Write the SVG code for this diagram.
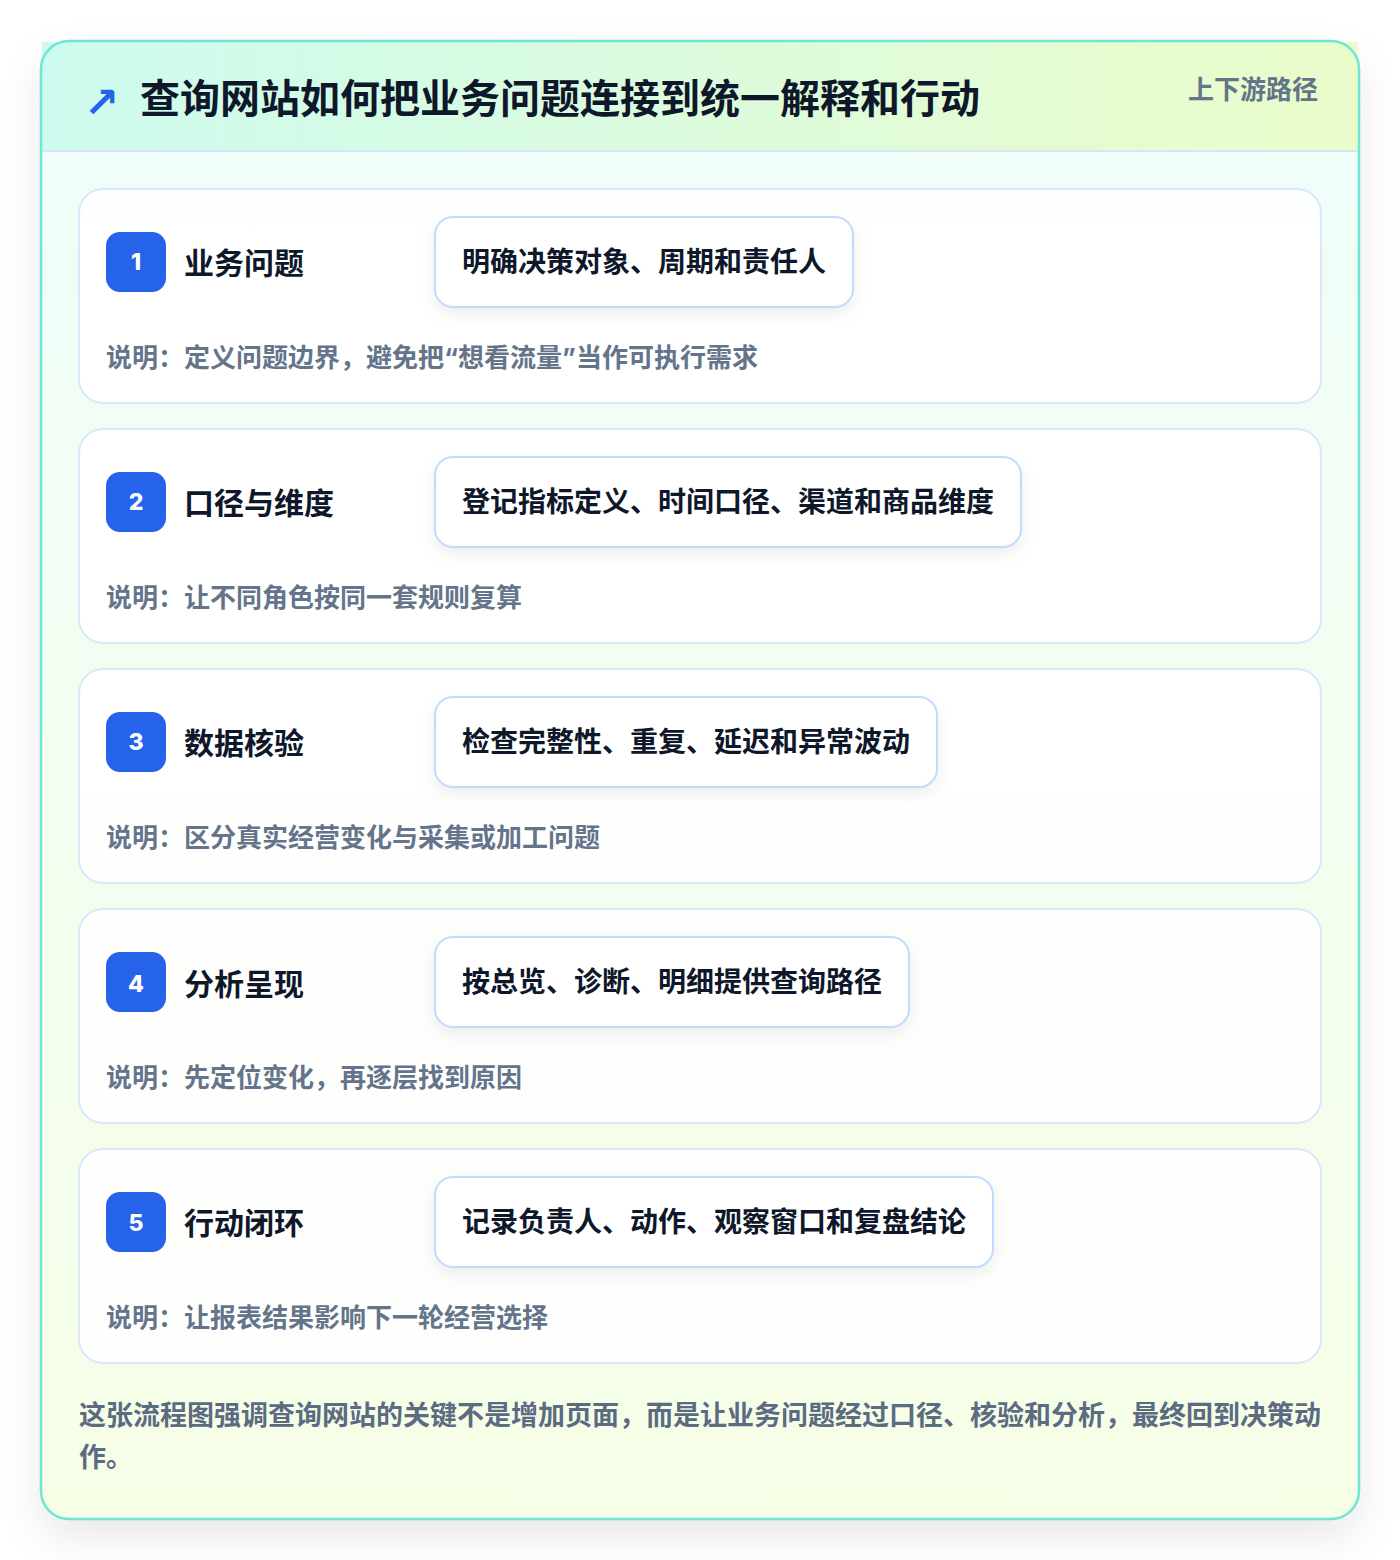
<svg xmlns="http://www.w3.org/2000/svg" width="1400" height="1560" viewBox="0 0 1400 1560">
<defs>
<linearGradient id="hdr" x1="0" y1="0" x2="1" y2="0">
<stop offset="0" stop-color="#cdfbef"/>
<stop offset="1" stop-color="#ebfcca"/>
</linearGradient>
<linearGradient id="body" x1="0" y1="0" x2="0" y2="1">
<stop offset="0" stop-color="#effdfa"/>
<stop offset="1" stop-color="#f6fee6"/>
</linearGradient>
<filter id="outerShadow" x="-10%" y="-10%" width="120%" height="125%">
<feGaussianBlur in="SourceAlpha" stdDeviation="20"/>
<feOffset dy="18" result="b"/>
<feFlood flood-color="#0f172a" flood-opacity="0.09"/>
<feComposite in2="b" operator="in"/>
<feMerge><feMergeNode/><feMergeNode in="SourceGraphic"/></feMerge>
</filter>
<filter id="pillShadow" x="-10%" y="-30%" width="120%" height="170%">
<feGaussianBlur in="SourceAlpha" stdDeviation="8"/>
<feOffset dy="6" result="b"/>
<feFlood flood-color="#0f172a" flood-opacity="0.07"/>
<feComposite in2="b" operator="in"/>
<feMerge><feMergeNode/><feMergeNode in="SourceGraphic"/></feMerge>
</filter>
</defs>
<style>
text{font-family:"Noto Sans CJK SC","Noto Sans",sans-serif;font-weight:700}
.card{fill:#ffffff;fill-opacity:0.88;stroke:#dbe7fb;stroke-width:2}
.badge{fill:#2563eb}
.num{font-family:Inter,"Noto Sans",sans-serif;font-size:23px;font-weight:800;fill:#ffffff;text-anchor:middle}
.title{font-size:30px;fill:#0f172a}
.pill{fill:#ffffff;stroke:#bfdbfe;stroke-width:2}
.pilltext{font-size:28px;fill:#0f172a}
.desc{font-size:26px;fill:#64748b}
.q{font-family:Inter,"Noto Sans",sans-serif}
.foot{font-size:27px;fill:#5b6b82}
</style>
<rect width="1400" height="1560" fill="#ffffff"/>
<g id="container">
<rect x="41" y="41" width="1318" height="1478" rx="28" fill="url(#body)" filter="url(#outerShadow)"/>
<rect x="42" y="42" width="1316" height="109" fill="url(#hdr)"/>
<line x1="42" y1="151" x2="1358" y2="151" stroke="#d6e6fa" stroke-width="2"/>
<rect x="41" y="41" width="1318" height="1478" rx="28" fill="none" stroke="#6ee7d2" stroke-width="2.5"/>
</g>
<g id="header">
<text x="84" y="117" style="font-family:'DejaVu Sans',sans-serif;font-weight:700;font-size:42px;fill:#2563eb">↗</text>
<text x="140" y="113" style="font-size:40px;fill:#0f172a">查询网站如何把业务问题连接到统一解释和行动</text>
<text x="1318" y="99" text-anchor="end" style="font-size:26px;fill:#64748b">上下游路径</text>
</g>
<g id="connectors"></g>
<g id="step1">
<rect class="card" x="79" y="189" width="1242" height="214" rx="24"/>
<rect class="badge" x="106" y="232" width="60" height="60" rx="14"/>
<text class="num" x="136" y="270">1</text>
<text class="title" x="184" y="274">业务问题</text>
<rect class="pill" x="435" y="217" width="418" height="90" rx="18" filter="url(#pillShadow)"/>
<text class="pilltext" x="462" y="272">明确决策对象、周期和责任人</text>
<text class="desc" x="106" y="367">说明：定义问题边界，避免把<tspan class="q">“</tspan>想看流量<tspan class="q">”</tspan>当作可执行需求</text>
</g>
<g id="step2">
<rect class="card" x="79" y="429" width="1242" height="214" rx="24"/>
<rect class="badge" x="106" y="472" width="60" height="60" rx="14"/>
<text class="num" x="136" y="510">2</text>
<text class="title" x="184" y="514">口径与维度</text>
<rect class="pill" x="435" y="457" width="586" height="90" rx="18" filter="url(#pillShadow)"/>
<text class="pilltext" x="462" y="512">登记指标定义、时间口径、渠道和商品维度</text>
<text class="desc" x="106" y="607">说明：让不同角色按同一套规则复算</text>
</g>
<g id="step3">
<rect class="card" x="79" y="669" width="1242" height="214" rx="24"/>
<rect class="badge" x="106" y="712" width="60" height="60" rx="14"/>
<text class="num" x="136" y="750">3</text>
<text class="title" x="184" y="754">数据核验</text>
<rect class="pill" x="435" y="697" width="502" height="90" rx="18" filter="url(#pillShadow)"/>
<text class="pilltext" x="462" y="752">检查完整性、重复、延迟和异常波动</text>
<text class="desc" x="106" y="847">说明：区分真实经营变化与采集或加工问题</text>
</g>
<g id="step4">
<rect class="card" x="79" y="909" width="1242" height="214" rx="24"/>
<rect class="badge" x="106" y="952" width="60" height="60" rx="14"/>
<text class="num" x="136" y="992">4</text>
<text class="title" x="184" y="995">分析呈现</text>
<rect class="pill" x="435" y="937" width="474" height="90" rx="18" filter="url(#pillShadow)"/>
<text class="pilltext" x="462" y="992">按总览、诊断、明细提供查询路径</text>
<text class="desc" x="106" y="1087">说明：先定位变化，再逐层找到原因</text>
</g>
<g id="step5">
<rect class="card" x="79" y="1149" width="1242" height="214" rx="24"/>
<rect class="badge" x="106" y="1192" width="60" height="60" rx="14"/>
<text class="num" x="136" y="1231">5</text>
<text class="title" x="184" y="1234">行动闭环</text>
<rect class="pill" x="435" y="1177" width="558" height="90" rx="18" filter="url(#pillShadow)"/>
<text class="pilltext" x="462" y="1232">记录负责人、动作、观察窗口和复盘结论</text>
<text class="desc" x="106" y="1327">说明：让报表结果影响下一轮经营选择</text>
</g>
<g id="footer">
<text class="foot" x="79" y="1425">这张流程图强调查询网站的关键不是增加页面，而是让业务问题经过口径、核验和分析，最终回到决策动</text>
<text class="foot" x="79" y="1467">作。</text>
</g>
</svg>
